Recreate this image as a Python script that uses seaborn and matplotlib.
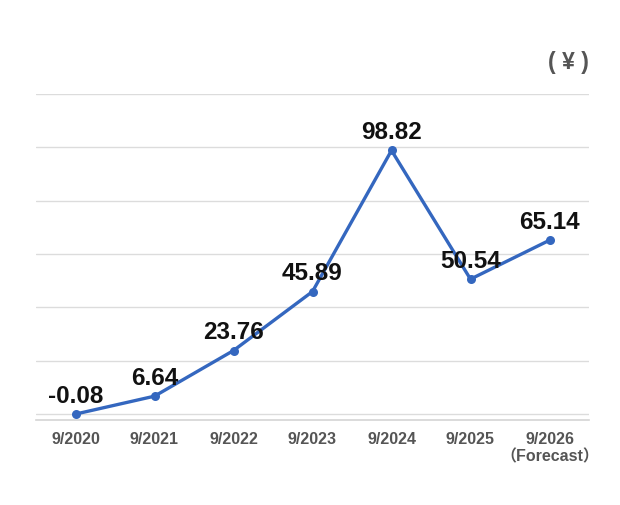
import matplotlib
matplotlib.use("Agg")
import matplotlib.pyplot as plt
import seaborn as sns
import pandas as pd

# data
periods = ["9/2020", "9/2021", "9/2022", "9/2023", "9/2024", "9/2025", "9/2026\n（Forecast）"]
eps = [-0.08, 6.64, 23.76, 45.89, 98.82, 50.54, 65.14]

df = pd.DataFrame({"period": periods, "eps": eps})
df["x"] = range(len(df))

sns.set_style("white")
plt.rcParams["font.family"] = ["Liberation Sans", "Noto Sans CJK JP", "DejaVu Sans"]

fig = plt.figure(figsize=(6.2, 5.05), dpi=100)
ax = fig.add_axes([36 / 620, 1 - 420 / 505, 553 / 620, 326 / 505])

line_color = "#3467bf"
sns.lineplot(data=df, x="x", y="eps", ax=ax, color=line_color, linewidth=2.4,
             marker="o", markersize=6.5, markeredgewidth=0, zorder=3)

# value labels just above each point
for _, row in df.iterrows():
    ax.annotate(f"{row.eps:.2f}", (row.x, row.eps), xytext=(0, 8),
                textcoords="offset points", ha="center", va="baseline",
                fontsize=17.5, fontweight="bold", color="#111111", zorder=4)

ax.set_xlim(-0.5, 6.5)
ax.set_ylim(-2.3, 120)
ax.set_yticks([0, 20, 40, 60, 80, 100, 120])
ax.set_yticklabels([])
ax.yaxis.grid(True, color="#dcdcdc", linewidth=1)
ax.set_xticks(df["x"])
ax.set_xticklabels(periods, fontsize=11.5, fontweight="bold", color="#555555",
                   linespacing=1.1)
ax.tick_params(axis="both", length=0, pad=9)
ax.set_xlabel("")
ax.set_ylabel("")
for side in ["top", "left", "right"]:
    ax.spines[side].set_visible(False)
ax.spines["bottom"].set_color("#d4d4d4")
ax.spines["bottom"].set_linewidth(1.2)

fig.text(589 / 620, 1 - 63 / 505, "( ¥ )", ha="right", va="center", fontsize=16.5,
         fontweight="bold", color="#555555")

plt.savefig("out.png", dpi=100)
